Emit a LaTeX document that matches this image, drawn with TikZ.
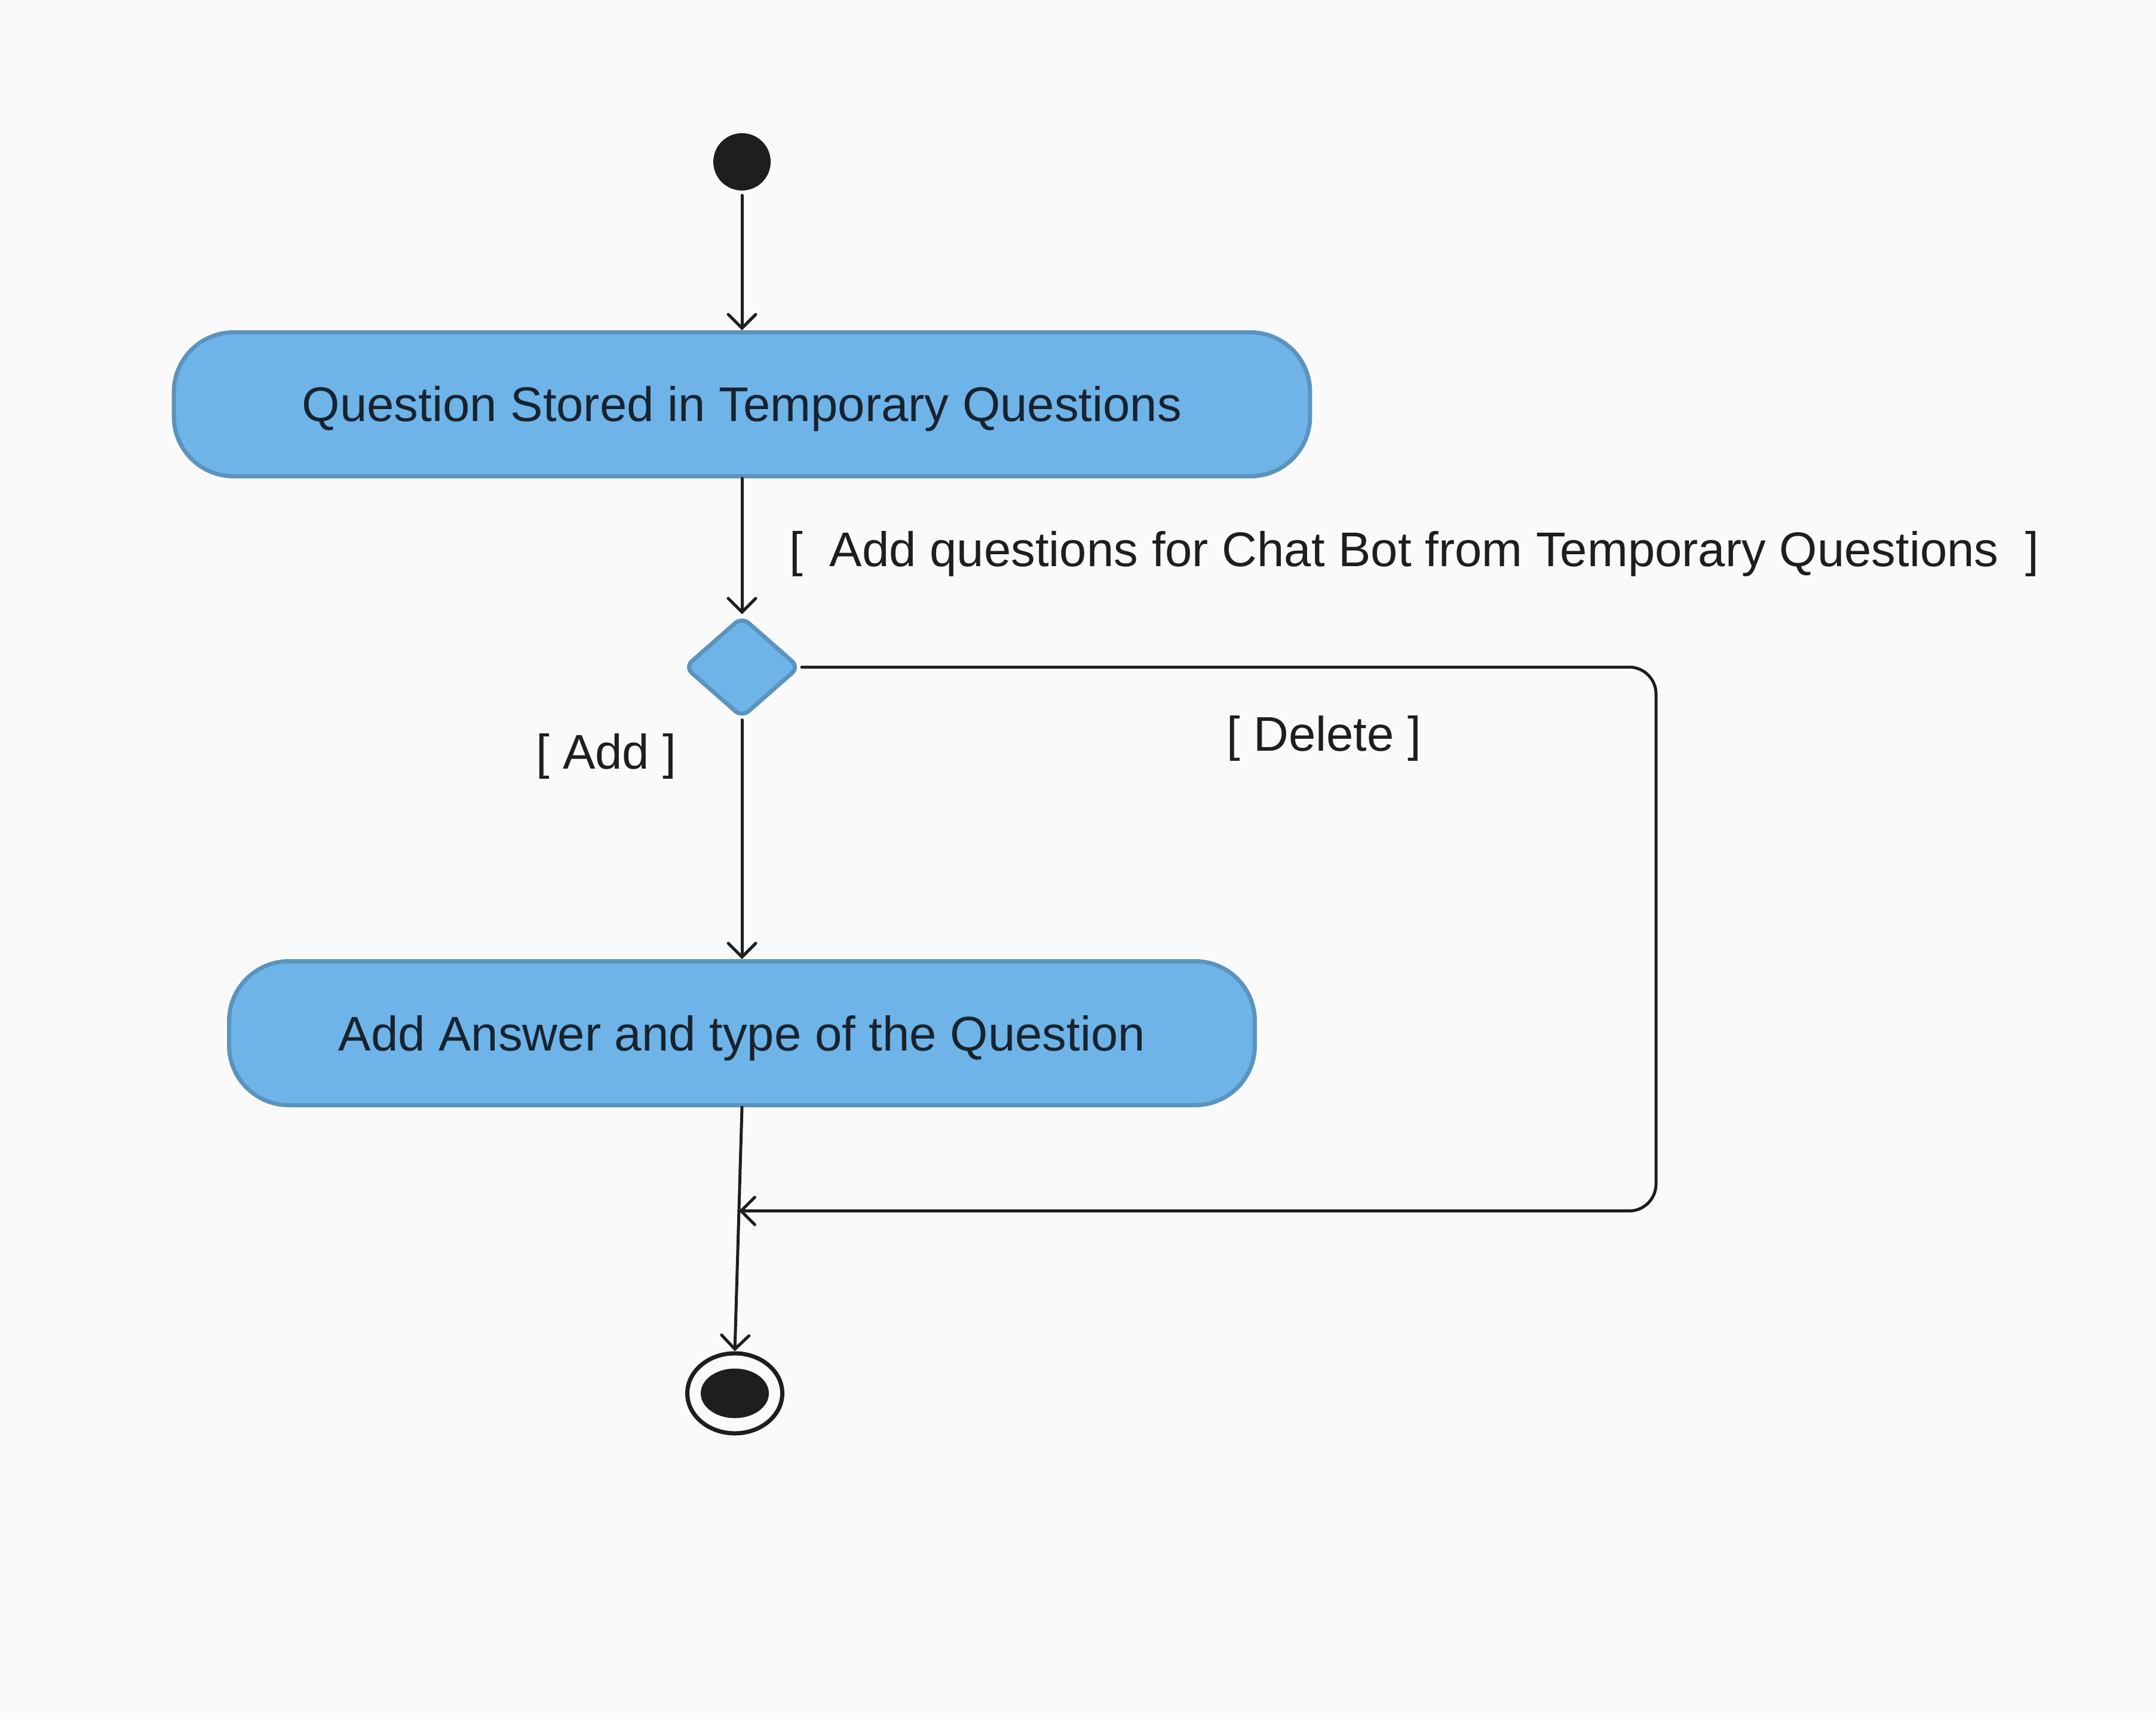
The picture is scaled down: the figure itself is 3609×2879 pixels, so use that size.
\documentclass[tikz,border=0pt]{standalone}
\usepackage{fontspec}
\setmainfont{Liberation Sans}
\usepackage{tikz}
\usetikzlibrary{arrows.meta,calc,shapes,positioning}
\usepackage{xcolor}
\definecolor{Ciel}{RGB}{110,180,232}
\definecolor{CielBord}{RGB}{90,148,190}
\definecolor{Encre}{RGB}{30,30,30}
\definecolor{Nuit}{RGB}{24,35,46}
\definecolor{Fond}{RGB}{250,250,250}

\begin{document}
\begin{tikzpicture}[x=0.1pt,y=-0.1pt,
  activity/.style={rectangle, rounded corners=10pt, draw=CielBord, fill=Ciel, line width=0.7pt, minimum height=24.1pt, text height=5.8pt, text depth=0pt, text=Nuit, font=\fontsize{8.15}{10}\selectfont},
  guard/.style={anchor=base west, inner sep=0pt, text=Encre, font=\fontsize{8.15}{10}\selectfont},
  flow/.style={draw=Encre, line width=0.5pt, line cap=round, -{Straight Barb[length=2.3pt,width=4.6pt,line cap=round]}}]
\fill[Fond] (0,0) rectangle (3609,2879);
%
\node[circle, fill=Encre, minimum size=9.6pt, inner sep=0pt] (start) at (1242,271) {};
\node[activity, minimum width=190.2pt] (stored) at (1242,677) {Question Stored in Temporary Questions};
\node[diamond, draw=CielBord, fill=Ciel, line width=0.7pt, rounded corners=1.5pt, minimum width=19.3pt, minimum height=17pt, inner sep=0pt] (choice) at (1242,1117) {};
\node[activity, minimum width=171.7pt] (answer) at (1242,1730) {Add Answer and type of the Question};
\node[ellipse, draw=Encre, line width=0.7pt, minimum width=15.9pt, minimum height=13.4pt, inner sep=0pt] (final) at (1230,2333) {};
\node[ellipse, fill=Encre, minimum width=11.4pt, minimum height=8.3pt, inner sep=0pt] (finaldot) at (final) {};
%
\node[guard] (gStored) at (1319,949) {[~~Add questions for Chat Bot from Temporary Questions~~]};
\node[guard] (gAdd) at (895,1287) {[ Add ]};
\node[guard] (gDelete) at (2051,1257) {[ Delete ]};
%
\draw[flow] ([yshift=-0.6pt]start.south) -- (stored.north);
\draw[flow] (stored.south) -- (choice.north);
\draw[flow] (choice.south) -- (answer.north);
\coordinate (merge) at ($(answer.south)!0.425!(final.north)$);
\draw[flow] (answer.south) -- (final.north);
\draw[flow, rounded corners=4.5pt] (choice.east) -- ++(1430,0) |- (merge);
%
\end{tikzpicture}
\end{document}
